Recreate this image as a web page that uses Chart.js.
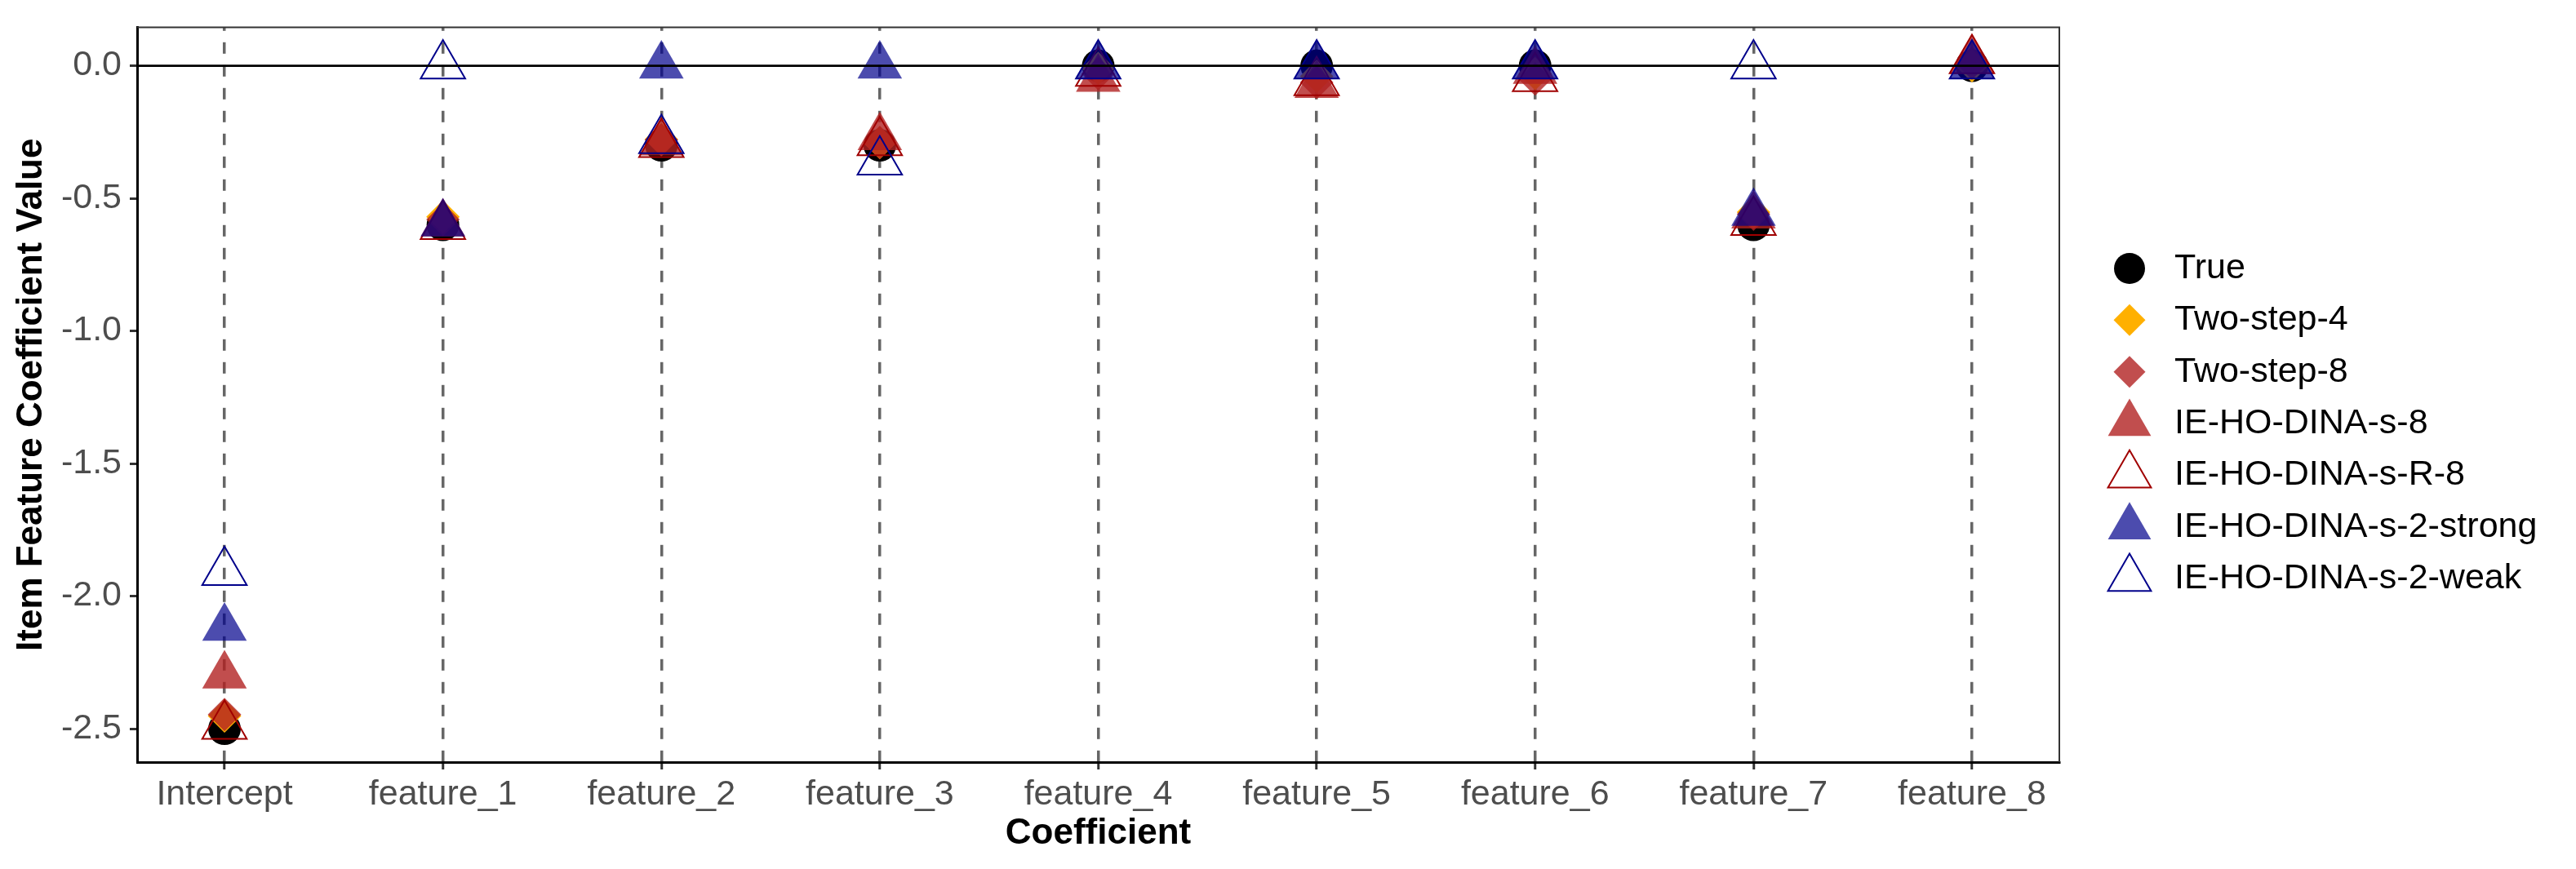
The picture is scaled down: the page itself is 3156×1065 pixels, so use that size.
<!DOCTYPE html>
<html lang="en">
<head>
<meta charset="UTF-8">
<title>Item Feature Coefficient Value</title>
<script src="https://cdn.jsdelivr.net/npm/chart.js"></script>
<style>
    html, body { margin: 0; padding: 0; background: #ffffff; }
    #wrap { width: 3156px; height: 1065px; }
</style>
</head>
<body>
<div id="wrap"><canvas id="coefChart" width="3156" height="1065"></canvas></div>
<script>
// categories on the x axis
const categories = ['Intercept', 'feature_1', 'feature_2', 'feature_3', 'feature_4',
                    'feature_5', 'feature_6', 'feature_7', 'feature_8'];
const yTicks = [-2.5, -2.0, -1.5, -1.0, -0.5, 0.0];

// values, one entry per category
const trueVals     = [-2.50, -0.600, -0.300, -0.300,  0.000,  0.000,  0.000, -0.600, 0.000];
const twoStep4     = [-2.452, -0.570, -0.277, -0.290, -0.010, -0.040, -0.030, -0.552, 0.000];
const twoStep8     = [-2.447, -0.580, -0.280, -0.290, -0.030, -0.063, -0.050, -0.560, 0.010];
const ieS8         = [-2.30, -0.595, -0.290, -0.270, -0.050, -0.073, -0.020, -0.565, 0.019];
const ieSR8        = [-2.49, -0.605, -0.296, -0.289, -0.027, -0.063, -0.047, -0.590, 0.020];
const ieS2Strong   = [-2.12, -0.595,  0.000,  0.000,  0.000,  0.000,  0.000, -0.555, 0.000];
const ieS2Weak     = [-1.91,  0.000, -0.281, -0.362,  0.000,  0.000,  0.000,  0.000, 0.000];

const FONT = "'Liberation Sans', Arial, sans-serif";

function pts(vals) {
    return vals.map((v, i) => ({ x: i, y: v }));
}

// legend is drawn by hand so each symbol keeps its own size
const legendPlugin = {
    id: 'sideLegend',
    afterDraw(chart) {
        const ctx = chart.ctx;
        const symX = 2609, textX = 2664, y0 = 329, step = 63.33;
        const items = chart.data.datasets.filter(d => d.legendSize);
        ctx.save();
        items.forEach((d, i) => {
            const y = y0 + i * step;
            const r = d.legendSize;
            ctx.beginPath();
            if (d.pointStyle === 'circle') {
                ctx.arc(symX, y, r, 0, Math.PI * 2);
            } else if (d.pointStyle === 'rectRot') {
                ctx.moveTo(symX - r, y);
                ctx.lineTo(symX, y - r);
                ctx.lineTo(symX + r, y);
                ctx.lineTo(symX, y + r);
            } else {
                ctx.moveTo(symX, y - r);
                ctx.lineTo(symX + r * 0.866, y + r / 2);
                ctx.lineTo(symX - r * 0.866, y + r / 2);
            }
            ctx.closePath();
            ctx.fillStyle = d.backgroundColor;
            ctx.fill();
            if (d.borderWidth > 0) {
                ctx.lineWidth = d.borderWidth;
                ctx.strokeStyle = d.borderColor;
                ctx.stroke();
            }
            ctx.fillStyle = '#000000';
            ctx.font = '43px ' + FONT;
            ctx.textAlign = 'left';
            ctx.textBaseline = 'middle';
            ctx.fillText(d.label, textX, y);
        });
        ctx.restore();
    }
};

// top and right sides of the panel
const panelBorder = {
    id: 'panelBorder',
    afterDatasetsDraw(chart) {
        const { ctx, chartArea: a } = chart;
        ctx.save();
        ctx.strokeStyle = '#333333';
        ctx.lineWidth = 2;
        ctx.beginPath();
        ctx.moveTo(a.left, a.top);
        ctx.lineTo(a.right, a.top);
        ctx.lineTo(a.right, a.bottom);
        ctx.stroke();
        ctx.restore();
    }
};

new Chart(document.getElementById('coefChart'), {
    type: 'scatter',
    data: {
        datasets: [
            {
                label: 'True', data: pts(trueVals), pointStyle: 'circle', pointRadius: 20,
                backgroundColor: '#000000', borderColor: '#000000', borderWidth: 0,
                legendSize: 19, order: 7
            },
            {
                label: 'Two-step-4', data: pts(twoStep4), pointStyle: 'rectRot', pointRadius: 20.5,
                backgroundColor: '#FFB000', borderColor: '#FFB000', borderWidth: 0,
                legendSize: 19.5, order: 6
            },
            {
                label: 'Two-step-8', data: pts(twoStep8), pointStyle: 'rectRot', pointRadius: 20.5,
                backgroundColor: 'rgba(178,34,34,0.8)', borderColor: 'rgba(178,34,34,0.8)', borderWidth: 0,
                legendSize: 19.5, order: 5
            },
            {
                label: 'IE-HO-DINA-s-8', data: pts(ieS8), pointStyle: 'triangle', pointRadius: 31.5,
                backgroundColor: 'rgba(178,34,34,0.8)', borderColor: 'rgba(178,34,34,0.8)', borderWidth: 0,
                legendSize: 30.5, order: 4
            },
            {
                label: 'IE-HO-DINA-s-R-8', data: pts(ieSR8), pointStyle: 'triangle', pointRadius: 31.5,
                backgroundColor: 'rgba(0,0,0,0)', borderColor: '#A00000', borderWidth: 2,
                legendSize: 30.5, order: 3
            },
            {
                label: 'IE-HO-DINA-s-2-strong', data: pts(ieS2Strong), pointStyle: 'triangle', pointRadius: 31.5,
                backgroundColor: 'rgba(0,0,139,0.7)', borderColor: 'rgba(0,0,139,0.7)', borderWidth: 0,
                legendSize: 30.5, order: 2
            },
            {
                label: 'IE-HO-DINA-s-2-weak', data: pts(ieS2Weak), pointStyle: 'triangle', pointRadius: 31.5,
                backgroundColor: 'rgba(0,0,0,0)', borderColor: '#00008B', borderWidth: 2,
                legendSize: 30.5, order: 1
            },
            {
                // reference line at zero, drawn over the points
                label: 'zero', data: [{ x: -0.4, y: 0 }, { x: 8.4, y: 0 }], showLine: true,
                borderColor: '#000000', borderWidth: 2.7, pointRadius: 0, order: 0
            }
        ]
    },
    options: {
        responsive: false,
        animation: false,
        devicePixelRatio: 1,
        layout: { padding: { top: 29, right: 633, bottom: 0, left: 0 } },
        plugins: {
            legend: { display: false },
            tooltip: { enabled: false }
        },
        scales: {
            x: {
                type: 'linear',
                min: -0.4,
                max: 8.4,
                afterBuildTicks: s => { s.ticks = categories.map((c, i) => ({ value: i })); },
                afterFit: s => { s.height = 131; s.paddingLeft = 0; s.paddingRight = 0; },
                ticks: {
                    autoSkip: false,
                    maxRotation: 0,
                    padding: 5,
                    color: '#4D4D4D',
                    font: { family: FONT, size: 43, lineHeight: 1.2 },
                    callback: v => categories[v]
                },
                grid: {
                    display: true,
                    drawOnChartArea: true,
                    color: '#666666',
                    lineWidth: 3.5,
                    drawTicks: true,
                    tickLength: 9,
                    tickWidth: 3,
                    tickColor: '#333333'
                },
                border: { display: true, color: '#000000', width: 3, dash: [14, 14], dashOffset: 9.7 },
                title: {
                    display: true,
                    text: 'Coefficient',
                    color: '#000000',
                    font: { family: FONT, size: 44, weight: 'bold', lineHeight: 1.2 },
                    padding: { top: 0, bottom: 17 }
                }
            },
            y: {
                type: 'linear',
                min: -2.626,
                max: 0.145,
                afterBuildTicks: s => { s.ticks = yTicks.map(v => ({ value: v })); },
                afterFit: s => { s.width = 168; s.paddingTop = 0; s.paddingBottom = 0; },
                ticks: {
                    padding: 10,
                    color: '#4D4D4D',
                    font: { family: FONT, size: 43, lineHeight: 1.2 },
                    callback: v => Number(v).toFixed(1)
                },
                grid: {
                    display: true,
                    drawOnChartArea: false,
                    drawTicks: true,
                    tickLength: 9,
                    tickWidth: 3,
                    tickColor: '#333333'
                },
                border: { display: true, color: '#000000', width: 3 },
                title: {
                    display: true,
                    text: 'Item Feature Coefficient Value',
                    color: '#000000',
                    font: { family: FONT, size: 44, weight: 'bold', lineHeight: 1.2 },
                    padding: { top: 12, bottom: 0 }
                }
            }
        }
    },
    plugins: [panelBorder, legendPlugin]
});
</script>
</body>
</html>
